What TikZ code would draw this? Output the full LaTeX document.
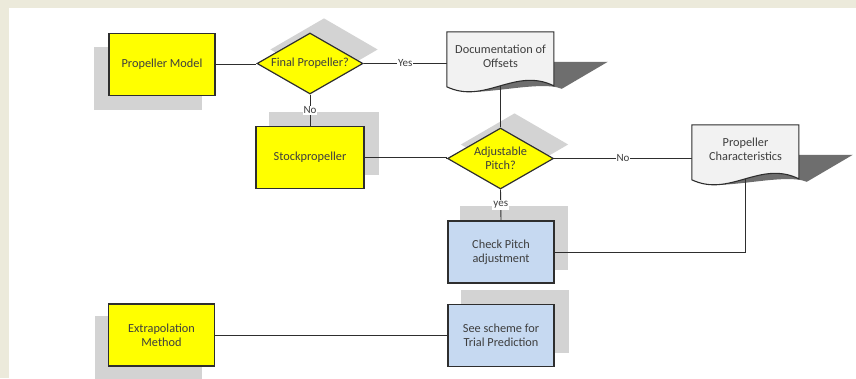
\documentclass[tikz,border=0pt]{standalone}
\usepackage{fontspec}
\setmainfont{Carlito}
\usetikzlibrary{shapes.geometric,calc}

\definecolor{pagebg}{HTML}{ECEADB}
\definecolor{boxyellow}{HTML}{FFFF00}
\definecolor{boxblue}{HTML}{C6D9F1}
\definecolor{shadowlight}{HTML}{D3D3D3}
\definecolor{shadowdark}{HTML}{6E6E6E}
\definecolor{docfill}{HTML}{F2F2F2}
\definecolor{edge}{HTML}{2E2E2E}
\definecolor{ink}{HTML}{3E3E3E}

\pgfdeclarelayer{pagelayer}
\pgfdeclarelayer{shadowlayer}
\pgfdeclarelayer{linelayer}
\pgfdeclarelayer{doclayer}
\pgfsetlayers{pagelayer,shadowlayer,linelayer,doclayer,main}

% wavy "document" outline with its slanted cast shadow, anchored at a node's north west corner
\newcommand{\docoutline}[1]{%
  \begin{pgfonlayer}{shadowlayer}
    \fill[shadowdark, shift={(#1.north west)}, cm={1,0,0.852,0.5,(54pt,-30pt)}]
      (0,0) -- (107,0) -- (107,54) .. controls (68,35) and (38,73) .. (0,55) -- cycle;
  \end{pgfonlayer}
  \begin{pgfonlayer}{doclayer}
    \draw[draw=edge, line width=1.1pt, fill=docfill, shift={(#1.north west)}]
      (0,0) -- (107,0) -- (107,54) .. controls (68,35) and (38,73) .. (0,55) -- cycle;
  \end{pgfonlayer}}

\begin{document}
\begin{tikzpicture}[x=1pt,y=-1pt,
  every node/.style={font=\fontsize{12.3}{14}\selectfont, text=ink, align=center},
  procbox/.style={rectangle, draw=edge, line width=1.2pt, minimum width=106pt, minimum height=62pt, inner sep=2pt},
  yellowbox/.style={procbox, fill=boxyellow},
  bluebox/.style={procbox, fill=boxblue},
  decision/.style={diamond, draw=edge, line width=1.2pt, fill=boxyellow, aspect=1.74,
                   minimum width=106pt, minimum height=61pt, inner sep=0pt},
  docnode/.style={rectangle, minimum width=107pt, minimum height=48pt, inner sep=0pt},
  connector/.style={draw=edge, line width=0.9pt},
  edgelabel/.style={fill=white, inner sep=1pt, font=\fontsize{11}{12}\selectfont}]

  % page and margins
  \useasboundingbox (0,0) rectangle (856,378);
  \begin{pgfonlayer}{pagelayer}
    \fill[pagebg] (0,0) rectangle (856,378);
    \fill[white] (9,8) rectangle (856,378);
  \end{pgfonlayer}

  % process steps and decisions
  \node[yellowbox] (pm) at (162,64.5) {Propeller Model};
  \node[decision]  (fp) at (310,63.5) {Final Propeller?};
  \node[docnode]   (doc) at (500.5,56) {Documentation of\\Offsets};
  \node[yellowbox, minimum width=108pt] (sp) at (310,157.5) {Stockpropeller};
  \node[decision]  (ap) at (500.5,158.5) {Adjustable\\Pitch?};
  \node[docnode]   (pc) at (745.5,149) {Propeller\\Characteristics};
  \node[bluebox]   (cp) at (501,252) {Check Pitch\\adjustment};
  \node[yellowbox] (ex) at (161.5,335) {Extrapolation\\Method};
  \node[bluebox]   (ss) at (501,335.5) {See scheme for\\Trial Prediction};

  % document outlines
  \docoutline{doc}
  \docoutline{pc}
  \coordinate (docb) at ([yshift=-6pt]doc.south);
  \coordinate (pcb) at ([yshift=-6pt]pc.south);

  % flat drop shadows
  \begin{pgfonlayer}{shadowlayer}
    \foreach \n/\dx/\dy in {pm/-14/14, ex/-13/13, sp/14/-14, cp/13/-14, ss/14/-14}{
      \fill[shadowlight] ([shift={(\dx,\dy)}]\n.south west) rectangle ([shift={(\dx,\dy)}]\n.north east);
    }
    \foreach \n in {fp, ap}{
      \fill[shadowlight] ([shift={(14,-14)}]\n.north) -- ([shift={(14,-14)}]\n.east)
        -- ([shift={(14,-14)}]\n.south) -- ([shift={(14,-14)}]\n.west) -- cycle;
    }
  \end{pgfonlayer}

  % connectors
  \begin{pgfonlayer}{linelayer}
    \draw[connector] (pm.east) -- (pm.east -| fp.west);
    \draw[connector] (fp.east) -- node[edgelabel] {Yes} (fp.east -| doc.west);
    \draw[connector] (fp.south) -- node[edgelabel] {No} (sp.north);
    \draw[connector] (docb) -- (ap.north);
    \draw[connector] (sp.east) -- (sp.east -| ap.west) -- (ap.west);
    \draw[connector] (ap.east) -- node[edgelabel] {No} (ap.east -| pc.west);
    \draw[connector] (ap.south) -- node[edgelabel] {yes} (cp.north);
    \draw[connector] (pcb) -- (pcb |- cp.east) -- (cp.east);
    \draw[connector] (ex.east) -- (ex.east -| ss.west);
  \end{pgfonlayer}
\end{tikzpicture}
\end{document}
